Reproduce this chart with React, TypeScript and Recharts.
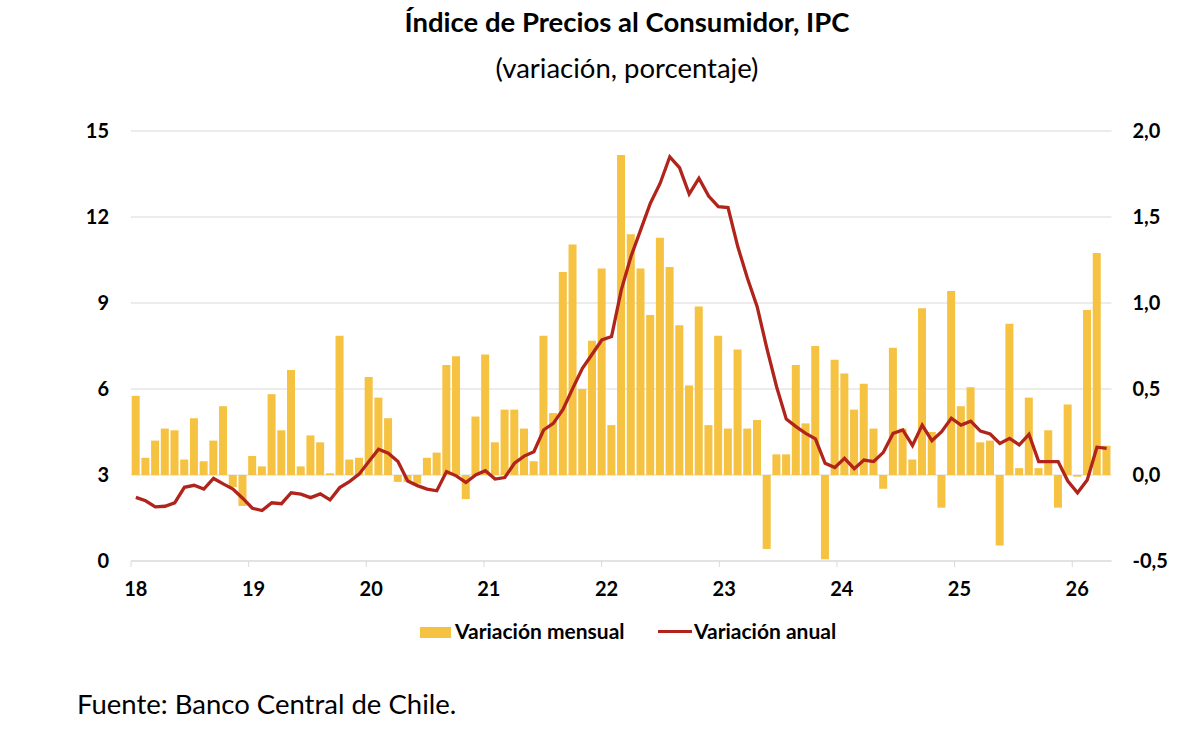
import { ComposedChart, CartesianGrid, XAxis, YAxis, Bar, Line } from "recharts";

const anios = ["18", "19", "20", "21", "22", "23", "24", "25", "26"];
const meses = ["ene", "feb", "mar", "abr", "may", "jun", "jul", "ago", "sep", "oct", "nov", "dic"];

// variación mensual (%), eje derecho
const variacionMensual = [
  0.46, 0.1, 0.2, 0.27, 0.26, 0.09, 0.33, 0.08, 0.2, 0.4, -0.07, -0.18,
  0.11, 0.05, 0.47, 0.26, 0.61, 0.05, 0.23, 0.19, 0.01, 0.81, 0.09, 0.1,
  0.57, 0.45, 0.33, -0.04, -0.04, -0.05, 0.1, 0.13, 0.64, 0.69, -0.14, 0.34,
  0.7, 0.19, 0.38, 0.38, 0.27, 0.08, 0.81, 0.36, 1.18, 1.34, 0.5, 0.78,
  1.2, 0.29, 1.86, 1.4, 1.2, 0.93, 1.38, 1.21, 0.87, 0.52, 0.98, 0.29,
  0.81, 0.27, 0.73, 0.27, 0.32, -0.43, 0.12, 0.12, 0.64, 0.3, 0.75, -0.49,
  0.67, 0.59, 0.38, 0.53, 0.27, -0.08, 0.74, 0.27, 0.09, 0.97, 0.25, -0.19,
  1.07, 0.4, 0.51, 0.19, 0.2, -0.41, 0.88, 0.04, 0.45, 0.04, 0.26, -0.19,
  0.41, -0.01, 0.96, 1.29, 0.17,
];

// variación anual (%), eje izquierdo
const variacionAnual = [
  2.22, 2.1, 1.89, 1.91, 2.03, 2.57, 2.64, 2.51, 2.88, 2.69, 2.51, 2.19,
  1.84, 1.76, 2.03, 2.0, 2.38, 2.33, 2.21, 2.34, 2.13, 2.56, 2.77, 3.03,
  3.47, 3.9, 3.76, 3.47, 2.79, 2.63, 2.51, 2.45, 3.12, 2.97, 2.74, 3.0,
  3.15, 2.86, 2.91, 3.41, 3.66, 3.81, 4.57, 4.8, 5.29, 6.02, 6.72, 7.21,
  7.71, 7.83, 9.45, 10.62, 11.55, 12.48, 13.17, 14.1, 13.72, 12.8, 13.35, 12.73,
  12.36, 12.33, 10.97, 9.86, 8.87, 7.42, 6.08, 4.95, 4.69, 4.45, 4.26, 3.41,
  3.26, 3.58, 3.22, 3.52, 3.47, 3.79, 4.45, 4.57, 4.03, 4.74, 4.2, 4.51,
  4.98, 4.74, 4.88, 4.53, 4.43, 4.1, 4.28, 4.05, 4.42, 3.47, 3.47, 3.47,
  2.79, 2.38, 2.83, 3.97, 3.93,
];

const ticksIzq = [0, 3, 6, 9, 12, 15];
const ticksDer = [-0.5, 0, 0.5, 1, 1.5, 2];

const AMARILLO = "#F5C242";
const ROJO = "#B0241B";
const GRIS = "#d9d9d9";
const FONT = "Lato, 'Open Sans', sans-serif";

const categorias = anios.flatMap((a) => meses.map((m) => `${m}-${a}`));
const data = variacionMensual.map((v, i) => ({
  mes: categorias[i],
  mensual: v,
  anual: variacionAnual[i],
}));
const ticksAnio = anios.map((_, i) => i * 12);

const tickStyle = { fill: "#000", fontSize: 20, fontWeight: 700, fontFamily: FONT };

function YearTick(props: any) {
  const { x, y, index } = props;
  // etiqueta centrada en enero, marca en el borde
  const half = 980.5 / data.length / 2;
  return (
    <text x={x + half} y={y} dy="0.71em" textAnchor="middle" {...tickStyle}>
      {anios[index]}
    </text>
  );
}

export default function App() {
  return (
    <div style={{ position: "absolute", left: 0, top: 0, width: 1200, height: 746, background: "#fff" }}>
      <ComposedChart
        width={1200}
        height={746}
        data={data}
        margin={{ top: 131, right: 28.5, bottom: 155, left: 71 }}
        barCategoryGap="7%"
      >
        <CartesianGrid yAxisId="izq" vertical={false} stroke={GRIS} />
        <XAxis xAxisId="cat" dataKey="mes" hide />
        <XAxis
          xAxisId="anio"
          type="number"
          domain={[0, data.length]}
          allowDataOverflow
          ticks={ticksAnio}
          interval={0}
          stroke={GRIS}
          tickSize={6}
          tickMargin={15}
          tick={<YearTick />}
        />
        <YAxis
          yAxisId="izq"
          orientation="left"
          width={60}
          domain={[0, 15]}
          ticks={ticksIzq}
          interval={0}
          axisLine={false}
          tickLine={false}
          tickSize={0}
          tickMargin={22}
          tick={tickStyle}
        />
        <YAxis
          yAxisId="der"
          orientation="right"
          width={60}
          domain={[-0.5, 2]}
          ticks={ticksDer}
          interval={0}
          axisLine={false}
          tickLine={false}
          tickSize={0}
          tickMargin={21}
          tick={tickStyle}
          tickFormatter={(v) => Number(v).toFixed(1).replace(".", ",")}
        />
        <Bar xAxisId="cat" yAxisId="der" dataKey="mensual" fill={AMARILLO} isAnimationActive={false} />
        <Line
          xAxisId="cat"
          yAxisId="izq"
          type="linear"
          dataKey="anual"
          stroke={ROJO}
          strokeWidth={3.3}
          dot={false}
          isAnimationActive={false}
        />
      </ComposedChart>

      <svg
        width={1200}
        height={746}
        style={{ position: "absolute", left: 0, top: 0, pointerEvents: "none" }}
        fontFamily={FONT}
      >
        <text x={627} y={32} textAnchor="middle" fontSize={27.5} fontWeight={700} fill="#000">
          Índice de Precios al Consumidor, IPC
        </text>
        <text x={627} y={78} textAnchor="middle" fontSize={27.5} fill="#000">
          (variación, porcentaje)
        </text>

        <rect x={420} y={627} width={31} height={11} fill={AMARILLO} />
        <text x={455} y={639} fontSize={21} fontWeight={700} fill="#000">
          Variación mensual
        </text>
        <line x1={658} x2={692} y1={631.5} y2={631.5} stroke={ROJO} strokeWidth={3} />
        <text x={694} y={639} fontSize={21} fontWeight={700} fill="#000">
          Variación anual
        </text>

        <text x={77} y={714} fontSize={27.5} fill="#000">
          Fuente: Banco Central de Chile.
        </text>
      </svg>
    </div>
  );
}
